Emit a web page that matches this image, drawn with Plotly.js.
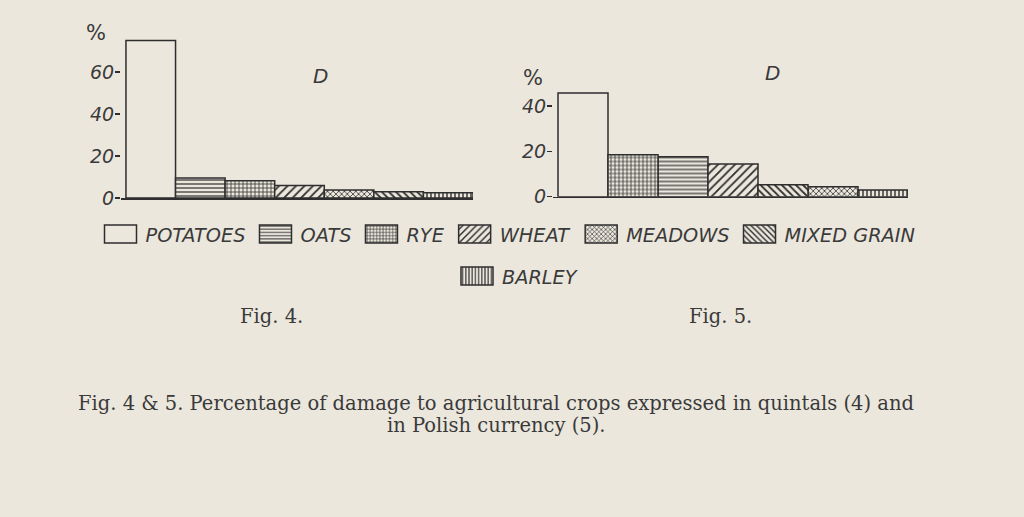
<!DOCTYPE html>
<html>
<head>
<meta charset="utf-8">
<script src="https://cdn.plot.ly/plotly-3.0.1.min.js"></script>
<style>
  html, body { margin: 0; padding: 0; background: #ebe7dd; }
  #chart { width: 1024px; height: 517px; }
</style>
</head>
<body>
<div id="chart"></div>
<script>
// ---- data ----
const crops = ['POTATOES', 'OATS', 'RYE', 'WHEAT', 'MEADOWS', 'MIXED GRAIN', 'BARLEY'];
// Fig. 4 – damage expressed in quintals (%)
const fig4Values = [75, 9.5, 8.2, 5.9, 3.8, 3.0, 2.5];
// Fig. 5 – damage expressed in Polish currency (%)
const fig5Values = [45.8, 17.6, 18.5, 14.4, 4.4, 5.3, 3.0];
// order of the bars along each axis
const fig4Order = ['POTATOES', 'OATS', 'RYE', 'WHEAT', 'MEADOWS', 'MIXED GRAIN', 'BARLEY'];
const fig5Order = ['POTATOES', 'RYE', 'OATS', 'WHEAT', 'MIXED GRAIN', 'MEADOWS', 'BARLEY'];
const fig4Ticks = [0, 20, 40, 60];
const fig5Ticks = [0, 20, 40];

// ---- styles ----
const BG = '#ebe7dd';
const INK = '#2e2e2e';
const TXT = '#3a3a3a';
const patterns = {
  'POTATOES':    {shape: ''},
  'OATS':        {shape: '-', size: 4, solidity: 0.3},
  'RYE':         {shape: '+', size: 4, solidity: 0.35},
  'WHEAT':       {shape: '/', size: 6, solidity: 0.3},
  'MEADOWS':     {shape: 'x', size: 4, solidity: 0.35},
  'MIXED GRAIN': {shape: '\\', size: 5, solidity: 0.35},
  'BARLEY':      {shape: '|', size: 4, solidity: 0.35}
};
const sansFont = 'DejaVu Sans';

const traces = [];
crops.forEach((c, i) => {
  const p = patterns[c];
  const marker = {
    color: BG,
    line: {color: INK, width: 1.5},
    pattern: p.shape ? {shape: p.shape, fgcolor: INK, bgcolor: BG, size: p.size, solidity: p.solidity} : {shape: ''}
  };
  traces.push({
    type: 'bar', x: [c], y: [fig4Values[i]], xaxis: 'x', yaxis: 'y',
    width: 1, name: c, legendgroup: c, showlegend: true,
    legend: c === 'BARLEY' ? 'legend2' : 'legend',
    marker: marker, hoverinfo: 'x+y'
  });
  traces.push({
    type: 'bar', x: [c], y: [fig5Values[i]], xaxis: 'x2', yaxis: 'y2',
    width: 1, name: c, legendgroup: c, showlegend: false,
    marker: marker, hoverinfo: 'x+y'
  });
});

const W = 1024, H = 517;
const px = v => v / W;
const py = v => 1 - v / H;

const tickFont = {family: sansFont, size: 19, color: TXT, style: 'italic'};
const legendFont = {family: sansFont, size: 19.3, color: TXT, style: 'italic'};
const serif = {family: 'DejaVu Serif', size: 19.5, color: TXT};

function note(x, y, text, font) {
  return {xref: 'paper', yref: 'paper', x: px(x), y: py(y), xanchor: 'center', yanchor: 'middle',
          text: text, showarrow: false, font: font};
}

const layout = {
  width: W, height: H,
  margin: {l: 0, r: 0, t: 0, b: 0},
  paper_bgcolor: BG, plot_bgcolor: 'rgba(0,0,0,0)',
  barmode: 'overlay', bargap: 0,
  showlegend: true,
  xaxis: {
    domain: [px(121), px(473)], anchor: 'y', type: 'category',
    categoryorder: 'array', categoryarray: fig4Order,
    range: [-0.6, 6.5], showticklabels: false, ticks: '',
    showline: true, linecolor: INK, linewidth: 1.5, showgrid: false, zeroline: false, fixedrange: true
  },
  yaxis: {
    domain: [py(198), py(30)], anchor: 'x', range: [0, 80],
    tickvals: fig4Ticks, ticks: 'outside', ticklen: 5, tickwidth: 1.5, tickcolor: INK,
    ticklabelstandoff: -3,
    tickfont: tickFont, showline: false, showgrid: false, zeroline: false, fixedrange: true
  },
  xaxis2: {
    domain: [px(553), px(908)], anchor: 'y2', type: 'category',
    categoryorder: 'array', categoryarray: fig5Order,
    range: [-0.6, 6.5], showticklabels: false, ticks: '',
    showline: true, linecolor: INK, linewidth: 1.5, showgrid: false, zeroline: false, fixedrange: true
  },
  yaxis2: {
    domain: [py(196.7), py(83.5)], anchor: 'x2', range: [0, 50],
    tickvals: fig5Ticks, ticks: 'outside', ticklen: 5, tickwidth: 1.5, tickcolor: INK,
    ticklabelstandoff: -3,
    tickfont: tickFont, showline: false, showgrid: false, zeroline: false, fixedrange: true
  },
  legend: {
    orientation: 'h', x: px(508), xanchor: 'center', y: py(215), yanchor: 'top',
    font: legendFont, bgcolor: 'rgba(0,0,0,0)', itemclick: false, itemdoubleclick: false,
    traceorder: 'normal', itemwidth: 40
  },
  legend2: {
    orientation: 'h', x: px(518), xanchor: 'center', y: py(257), yanchor: 'top',
    font: legendFont, bgcolor: 'rgba(0,0,0,0)', itemclick: false, itemdoubleclick: false,
    itemwidth: 40
  },
  annotations: [
    note(96, 33, '%', {family: sansFont, size: 21, color: TXT}),
    note(320, 76, 'D', {family: sansFont, size: 20, color: TXT, style: 'italic'}),
    note(533, 78, '%', {family: sansFont, size: 21, color: TXT}),
    note(772, 73, 'D', {family: sansFont, size: 20, color: TXT, style: 'italic'}),
    note(271, 316, 'Fig. 4.', serif),
    note(720, 316, 'Fig. 5.', serif),
    note(496, 403, 'Fig. 4 &amp; 5. Percentage of damage to agricultural crops expressed in quintals (4) and', serif),
    note(496, 425, 'in Polish currency (5).', serif)
  ]
};

const gd = document.getElementById('chart');
Plotly.newPlot(gd, traces, layout, {displayModeBar: false, staticPlot: true}).then(() => {
  // widen the legend swatches (both legends) to the rectangular keys of the original figure
  gd.querySelectorAll('.legendpoints path').forEach(p => p.setAttribute('d', 'M16,9H-16V-9H16Z'));
});
</script>
</body>
</html>
